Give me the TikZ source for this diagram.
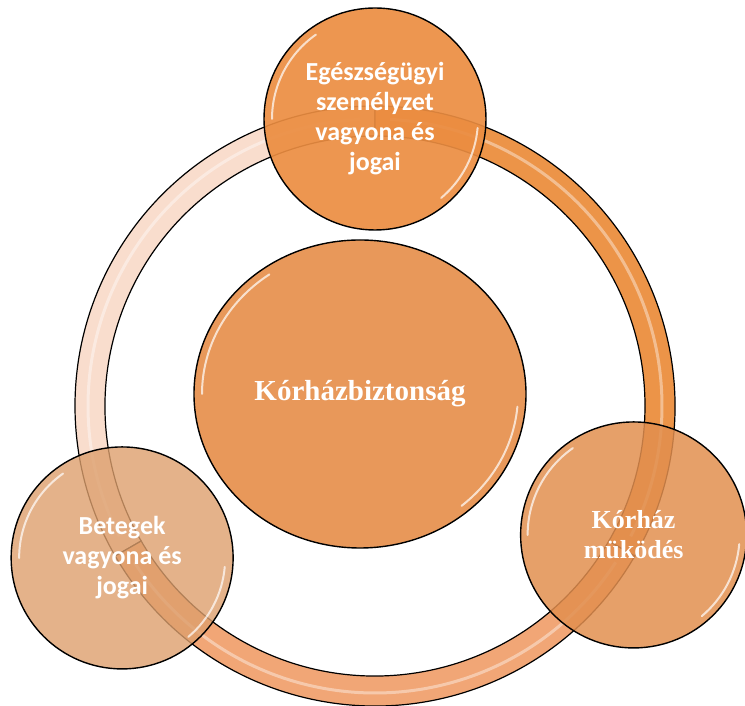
\documentclass[tikz,border=0pt]{standalone}
\usepackage{fontspec}
\setmainfont{Liberation Serif}
\newfontfamily\calibri{Carlito}
\usepackage{tikz}
\usetikzlibrary{shapes.geometric}
\definecolor{ringpale}{HTML}{F9DDCD}
\definecolor{ringsalmon}{HTML}{F1A676}
\definecolor{ringorange}{HTML}{EC9448}
\definecolor{centrefill}{HTML}{E8985A}
\definecolor{topfill}{HTML}{EB8D41}
\definecolor{rightfill}{HTML}{E28F4F}
\definecolor{leftfill}{HTML}{DD9F6D}

\begin{document}
\begin{tikzpicture}[x=1pt,y=1pt]
\tikzstyle{main}=[circle, draw=black, line width=1.4pt, inner sep=0pt, text=white, text opacity=1, align=center]
\tikzstyle{hub}=[main, ellipse, minimum width=332pt, minimum height=308pt, fill=centrefill, font=\fontsize{29}{33}\selectfont\bfseries]
\tikzstyle{sat}=[main, minimum size=222pt, font=\calibri\fontsize{26}{30}\selectfont\bfseries]
\tikzstyle{satserif}=[main, minimum size=226pt, font=\fontsize{26}{30}\selectfont\bfseries]
\tikzstyle{band}=[draw=black, line width=1.2pt]
\tikzstyle{streak}=[white, line width=3pt, opacity=0.4]
\tikzstyle{gloss}=[white, line width=2pt, line cap=round, opacity=0.7]

  \useasboundingbox (0,0) rectangle (745,706);
  \coordinate (ring) at (375,300);

  % ring in three arcs
  \foreach \a/\b/\c in {90/210/ringpale, 210/330/ringsalmon, -30/90/ringorange} {
    \filldraw[band, fill=\c] ([shift={(\a:300)}]ring) arc[start angle=\a, end angle=\b, radius=300]
      -- ([shift={(\b:270)}]ring) arc[start angle=\b, end angle=\a, radius=270] -- cycle;
    \draw[streak] ([shift={(\a+3:287)}]ring) arc[start angle=\a+3, end angle=\b-3, radius=287];
  }

  \node[hub] (centre) at (360,312) {Kórházbiztonság};
  \node[sat, fill=topfill, fill opacity=0.92] (staff) at ([shift={(90:287)}]ring)
    {Egészségügyi\\személyzet\\vagyona és\\jogai};
  \node[satserif, fill=rightfill, fill opacity=0.85] (operation) at ([shift={(-26.5:289)}]ring)
    {Kórház\\müködés};
  \node[sat, fill=leftfill, fill opacity=0.8] (patients) at ([shift={(211:295)}]ring)
    {Betegek\\vagyona és\\jogai};

  % glossy rims
  \foreach \n/\rx/\ry in {centre/158/146, staff/103/103, operation/106/106, patients/103/103} {
    \draw[gloss] (\n) ++({\rx*cos(125)},{\ry*sin(125)}) arc[start angle=125, end angle=180, x radius=\rx, y radius=\ry];
    \draw[gloss] (\n) ++({\rx*cos(-50)},{\ry*sin(-50)}) arc[start angle=-50, end angle=-5, x radius=\rx, y radius=\ry];
  }

\end{tikzpicture}
\end{document}
